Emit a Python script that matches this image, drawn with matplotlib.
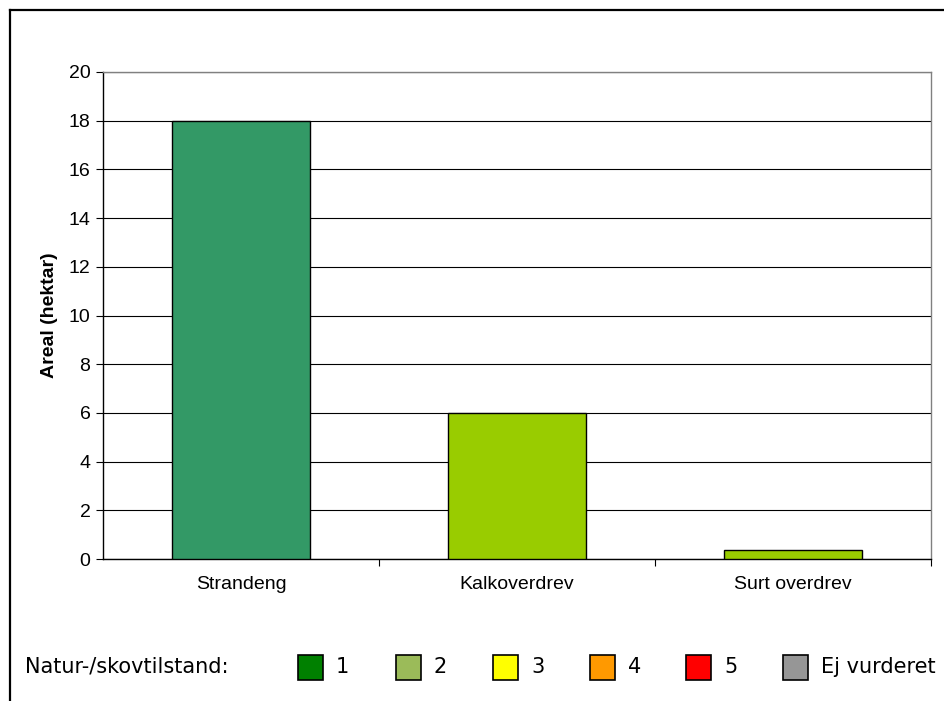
import matplotlib
matplotlib.use("Agg")
import matplotlib.pyplot as plt
from matplotlib.patches import Rectangle
from matplotlib.lines import Line2D

categories = ["Strandeng", "Kalkoverdrev", "Surt overdrev"]
areal = [18.0, 6.0, 0.37]
bar_colors = ["#339966", "#99CC00", "#99CC00"]

legend_title = "Natur-/skovtilstand:"
legend_labels = ["1", "2", "3", "4", "5", "Ej vurderet"]
legend_colors = ["#008000", "#9BBB59", "#FFFF00", "#FF9900", "#FF0000", "#969696"]

W, H = 945, 701
fig = plt.figure(figsize=(W / 100, H / 100), dpi=100)
plt.rcParams["font.family"] = ["Liberation Sans", "DejaVu Sans"]

# axes box in pixels: x 103..931, y 72..559
ax = fig.add_axes([103 / W, 1 - 559 / H, (931 - 103) / W, (559 - 72) / H])
x = list(range(len(categories)))
ax.bar(x, areal, width=0.5, color=bar_colors, edgecolor="black", linewidth=1.0, zorder=3)
ax.set_xlim(-0.5, len(categories) - 0.5)
ax.set_ylim(0, 20)
ax.set_yticks(range(0, 21, 2))
ax.yaxis.grid(True, color="black", linewidth=0.8, zorder=0)
ax.set_axisbelow(True)

ax.set_xticks(x)
ax.set_xticklabels(categories, fontsize=14)
ax.tick_params(axis="x", length=0, pad=12)
ax.set_xticks([0.5, 1.5, 2.5], minor=True)
ax.tick_params(axis="x", which="minor", length=5, width=0.8, direction="out")
ax.tick_params(axis="y", length=5, width=0.8, direction="out", labelsize=14, pad=4)

for s in ["left", "bottom"]:
    ax.spines[s].set_color("black")
    ax.spines[s].set_linewidth(1.0)
for s in ["top", "right"]:
    ax.spines[s].set_color("#808080")
    ax.spines[s].set_linewidth(1.0)

ax.set_ylabel("Areal (hektar)", fontsize=14, fontweight="bold", labelpad=8)

# outer chart frame: only top and left edges are visible
fx, fy = 10 / W, 1 - 10 / H
fig.add_artist(Line2D([fx, 1.0], [fy, fy], transform=fig.transFigure, color="black", linewidth=1.6))
fig.add_artist(Line2D([fx, fx], [0.0, fy], transform=fig.transFigure, color="black", linewidth=1.6))

# legend at the bottom
ly = 1 - 667 / H
fig.text(25 / W, ly, legend_title, fontsize=15, family="DejaVu Sans", va="center", ha="left")
box_x = [298, 396, 493, 590, 686, 783]
for bx, lab, col in zip(box_x, legend_labels, legend_colors):
    fig.add_artist(Rectangle((bx / W, 1 - 680 / H), 25 / W, 25 / H, transform=fig.transFigure,
                             facecolor=col, edgecolor="black", linewidth=1.2))
    fig.text((bx + 38) / W, ly, lab, fontsize=15, family="DejaVu Sans", va="center", ha="left")

fig.savefig("out.png", dpi=100)
